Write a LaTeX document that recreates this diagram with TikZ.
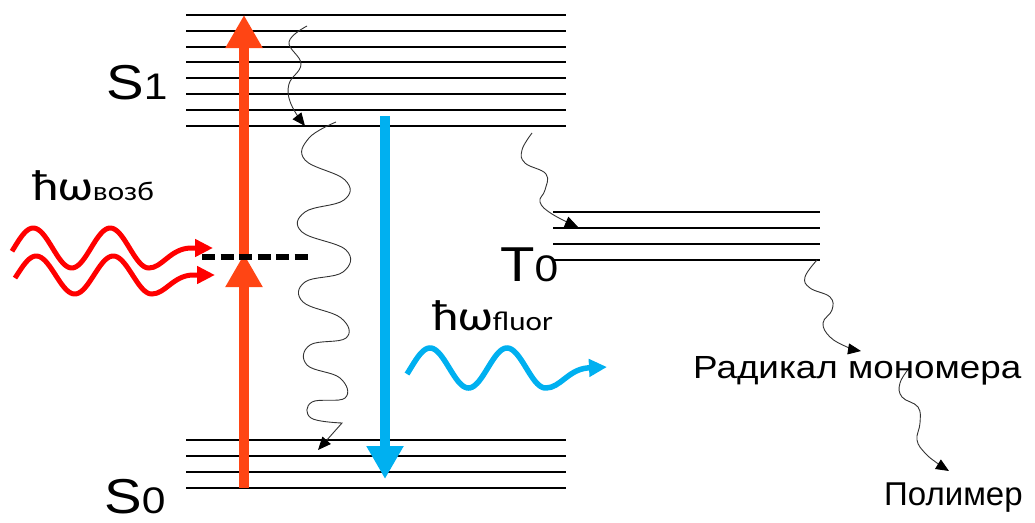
\documentclass[tikz,border=0pt]{standalone}
\usepackage{fontspec}
\setmainfont{Liberation Sans}
\newfontfamily\calfont{Carlito}
\usetikzlibrary{arrows.meta}
\definecolor{exred}{RGB}{255,69,20}
\definecolor{wavered}{RGB}{255,0,0}
\definecolor{fluorblue}{RGB}{0,176,240}
\newcommand{\widetxt}[1]{\scalebox{1.15}[1]{#1}}
\begin{document}
\begin{tikzpicture}[x=1pt,y=-1pt,
  level/.style={line width=1.2pt, black},
  wig/.style={line width=0.9pt, black!80, -{Triangle[length=13pt,width=11pt,color=black]}},
  bigarrow/.style={line width=10pt, -{Triangle[length=33pt,width=35pt]}},
  photon/.style={line width=5pt, -{Triangle[length=18pt,width=17pt]}},
  statelbl/.style={anchor=base west, inner sep=0pt, font=\fontsize{49}{49}\selectfont},
  txtlbl/.style={anchor=base west, inner sep=0pt, font=\fontsize{32}{32}\selectfont},
  hwlbl/.style={anchor=base west, inner sep=0pt, font=\calfont\fontsize{43}{43}\selectfont}]
\useasboundingbox (0,0) rectangle (1035,522);

% energy levels
\foreach \y in {15,31,47,62,78,94,110,126} \draw[level] (186,\y) -- (566,\y);
\foreach \y in {440,456,472,488} \draw[level] (186,\y) -- (566,\y);
\foreach \y in {212,228,244,260} \draw[level] (553,\y) -- (820,\y);

% state labels
\node[statelbl] (s1) at (106,99) {\widetxt{S{\fontsize{37}{37}\selectfont 1}}};
\node[statelbl] (s0) at (104,513) {\widetxt{S{\fontsize{37}{37}\selectfont 0}}};
\node[statelbl] (t0) at (500,281) {\widetxt{T{\fontsize{37}{37}\selectfont 0}}};

% excitation arrow
\coordinate (exbot) at (244,488);
\coordinate (exmid) at (244,254);
\coordinate (extop) at (244,15);
\draw[bigarrow, exred] (exbot) -- (exmid);
\draw[bigarrow, exred] (exmid) -- (extop);

% virtual level
\coordinate (vl) at (202,257);
\coordinate (vr) at (308,257);
\draw[line width=6pt, dash pattern=on 13pt off 5.5pt] (vl) -- (vr);

% fluorescence arrow
\coordinate (flt) at (385,116);
\coordinate (flb) at (385,479);
\draw[bigarrow, fluorblue] (flt) -- (flb);

% incoming photons
\coordinate (w1) at (213,248);
\coordinate (w2) at (215,275);
\draw[photon, wavered] plot[domain=12:149, samples=80, smooth] (\x,{248-20*sin((\x-14)*4.6753)})
  .. controls (162,268) and (170,249) .. (190,248) -- (w1);
\draw[photon, wavered] plot[domain=15:152, samples=80, smooth] (\x,{275-19*sin((\x-17)*4.6753)})
  .. controls (165,294) and (173,276) .. (192,275) -- (w2);

% emitted photon
\coordinate (w3) at (607,367);
\draw[photon, fluorblue, line width=5.5pt] plot[domain=407:546, samples=80, smooth] (\x,{368-20*sin((\x-410.75)*4.6753)})
  .. controls (560,388) and (568,370) .. (587,368) -- (w3);

% photon labels
\node[hwlbl] (hwex) at (32,200) {\widetxt{ħω{\fontsize{27}{27}\selectfont возб}}};
\node[hwlbl] (hwfl) at (432,330) {\widetxt{ħω{\fontsize{27}{27}\selectfont fluor}}};

% non-radiative relaxations
\coordinate (r1) at (305,126);
\draw[wig] plot[smooth, tension=0.7] coordinates {(307,26) (289,42) (301,64) (289,84) (291,104) (r1)};

\coordinate (r2) at (318,450);
\draw[wig] plot[smooth, tension=0.7] coordinates {(336,122) (309,138) (305,160) (345,180) (344,200) (305,212) (302,232) (346,250) (343,272) (305,282) (303,302) (341,318) (346,338) (310,345) (307,365) (340,378) (345,398) (312,402) (311,418) (342,423)} -- (r2);

\coordinate (r3) at (578,227);
\draw[wig] plot[smooth, tension=0.7] coordinates {(532,133) (522,150) (525,163) (546,174) (545,190) (540,202) (552,214) (r3)};

\coordinate (r4) at (861,351);
\draw[wig] plot[smooth, tension=0.7] coordinates {(817,260) (805,277) (810,288) (830,297) (832,310) (823,323) (830,337) (847,347) (r4)};

\coordinate (r5) at (949,471);
\draw[wig] plot[smooth, tension=0.7] coordinates {(910,367) (900,383) (902,397) (918,407) (920,423) (917,440) (925,453) (937,463) (r5)};

% product labels
\node[txtlbl] (rad) at (693,378) {\widetxt{Радикал мономера}};
\node[txtlbl, font=\fontsize{33}{33}\selectfont] (pol) at (884,505) {Полимер};
\end{tikzpicture}
\end{document}
